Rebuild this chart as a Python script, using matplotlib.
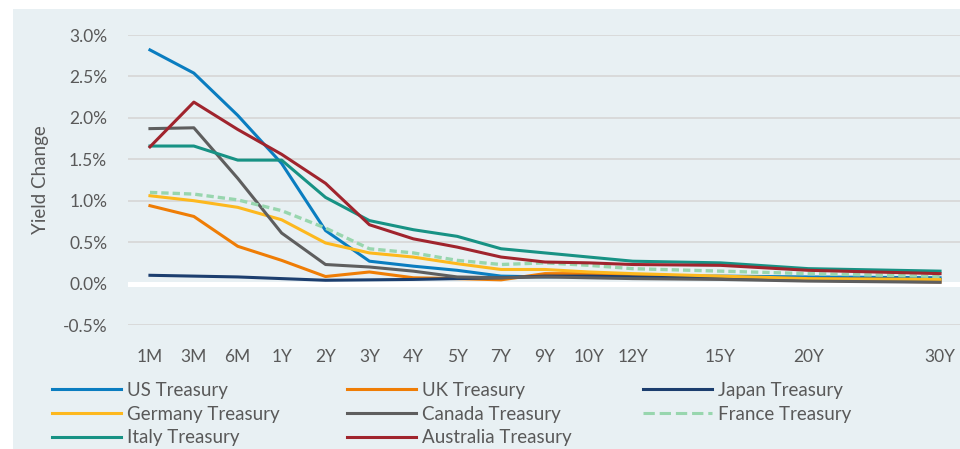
import matplotlib
matplotlib.use("Agg")
import matplotlib.pyplot as plt
from matplotlib.patches import Rectangle
from matplotlib.lines import Line2D

plt.rcParams['font.family'] = ['Lato', 'DejaVu Sans']

# tenors on the category axis; the chart leaves empty slots after 12Y
tenors = ["1M", "3M", "6M", "1Y", "2Y", "3Y", "4Y", "5Y", "7Y", "9Y",
          "10Y", "12Y", "15Y", "20Y", "30Y"]
slots = [0, 1, 2, 3, 4, 5, 6, 7, 8, 9, 10, 11, 13, 15, 18]

# yield change in percent
us = [2.82, 2.54, 2.03, 1.45, 0.64, 0.27, 0.21, 0.16, 0.09, 0.08, 0.09, 0.09, 0.09, 0.08, 0.07]
uk = [0.94, 0.81, 0.45, 0.28, 0.085, 0.14, 0.07, 0.06, 0.045, 0.12, 0.12, 0.10, 0.07, 0.04, 0.02]
japan = [0.10, 0.09, 0.08, 0.06, 0.04, 0.045, 0.05, 0.06, 0.07, 0.09, 0.09, 0.08, 0.07, 0.06, 0.05]
germany = [1.06, 1.00, 0.92, 0.77, 0.49, 0.37, 0.32, 0.24, 0.17, 0.17, 0.14, 0.12, 0.09, 0.06, 0.05]
canada = [1.87, 1.88, 1.27, 0.61, 0.23, 0.20, 0.15, 0.08, 0.07, 0.08, 0.07, 0.06, 0.05, 0.03, 0.015]
france = [1.10, 1.08, 1.01, 0.88, 0.67, 0.42, 0.37, 0.28, 0.23, 0.25, 0.22, 0.18, 0.15, 0.12, 0.085]
italy = [1.66, 1.66, 1.49, 1.49, 1.04, 0.76, 0.65, 0.57, 0.42, 0.37, 0.32, 0.27, 0.25, 0.18, 0.15]
australia = [1.65, 2.19, 1.86, 1.56, 1.21, 0.71, 0.54, 0.44, 0.32, 0.26, 0.25, 0.23, 0.22, 0.16, 0.12]

series = [
    ("US Treasury", us, "#0A7DC0", "-"),
    ("UK Treasury", uk, "#EF7D05", "-"),
    ("Japan Treasury", japan, "#1C3E6E", "-"),
    ("Germany Treasury", germany, "#FDB81E", "-"),
    ("Canada Treasury", canada, "#5E5E5E", "-"),
    ("France Treasury", france, "#98D6AE", "--"),
    ("Italy Treasury", italy, "#179284", "-"),
    ("Australia Treasury", australia, "#A0242D", "-"),
]

bg = "#E8F0F3"
txt = "#595959"

fig = plt.figure(figsize=(9.6, 4.49), dpi=100)
fig.patch.set_facecolor("white")
fig.patches.append(Rectangle((13 / 960, 0), 1, 1 - 9 / 449, transform=fig.transFigure,
                             facecolor=bg, edgecolor="none", zorder=-10))

ax = fig.add_axes([128 / 960, 124 / 449, 834 / 960, 290 / 449])
ax.set_facecolor(bg)
for s in ax.spines.values():
    s.set_visible(False)

ax.set_ylim(-0.5, 3.0)
ax.set_xlim(-0.5, 18.5)
ax.set_yticks([-0.5, 0, 0.5, 1.0, 1.5, 2.0, 2.5, 3.0])
ax.set_yticklabels(["%.1f%%" % v for v in [-0.5, 0, 0.5, 1.0, 1.5, 2.0, 2.5, 3.0]])
ax.set_xticks(slots)
ax.set_xticklabels(tenors)
ax.tick_params(axis="both", length=0, labelsize=12.5, labelcolor=txt)
ax.tick_params(axis="x", pad=17)
ax.tick_params(axis="y", pad=15)
ax.grid(axis="y", color="#D6D6D6", lw=1.2, zorder=0)
ax.set_axisbelow(True)
ax.axhline(0, color="white", lw=3.6, zorder=1)

ax.set_ylabel("Yield Change", fontsize=13.5, color=txt)
ax.yaxis.set_label_coords(-0.095, 0.5)

handles = {}
for name, vals, col, ls in series:
    if ls == "--":
        ln, = ax.plot(slots, vals, color=col, lw=2.4, ls=(0, (2.2, 1.2)), zorder=3)
    else:
        ln, = ax.plot(slots, vals, color=col, lw=2.2, zorder=3)
    handles[name] = ln

columns = [
    (["US Treasury", "Germany Treasury", "Italy Treasury"], 52),
    (["UK Treasury", "Canada Treasury", "Australia Treasury"], 347),
    (["Japan Treasury", "France Treasury"], 643),
]
for names, x0 in columns:
    hs = [Line2D([], [], color=handles[n].get_color(), lw=2.2,
                 ls=handles[n].get_linestyle()) for n in names]
    fig.legend(hs, names, loc="upper left", bbox_to_anchor=(x0 / 960, 1 - 382 / 449),
               frameon=False, fontsize=13.5, labelcolor=txt, handlelength=3.7,
               handletextpad=0.3, labelspacing=0.36, borderpad=0, borderaxespad=0)

fig.savefig("out.png", dpi=100, facecolor=fig.get_facecolor())
